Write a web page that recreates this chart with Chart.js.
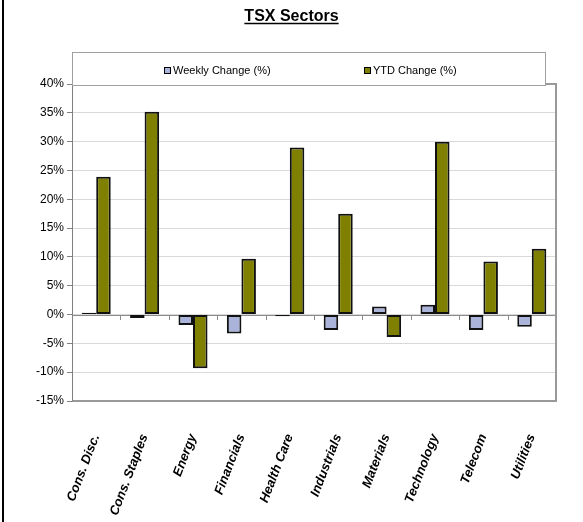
<!DOCTYPE html>
<html>
<head>
<meta charset="utf-8">
<script src="https://cdn.jsdelivr.net/npm/chart.js@4/dist/chart.umd.min.js"></script>
<style>
    html, body { margin: 0; padding: 0; background: #fff; }
    #chart-container { width: 583px; height: 522px; }
</style>
</head>
<body>
<div id="chart-container"><canvas id="chart-canvas" width="583" height="522"></canvas></div>
<script>
const chartTitle = 'TSX Sectors';
const sectors = ['Cons. Disc.', 'Cons. Staples', 'Energy', 'Financials', 'Health Care',
    'Industrials', 'Materials', 'Technology', 'Telecom', 'Utilities'];
const weeklyChange = [0.3, -0.6, -1.8, -3.3, -0.3, -2.7, 1.4, 1.7, -2.7, -2.1];
const ytdChange = [23.9, 35.2, -9.3, 9.7, 29.0, 17.5, -3.9, 30.0, 9.2, 11.4];
const yMin = -15;
const yMax = 40;
const yStep = 5;

// frame, zero line with category ticks, boxed legend, title
const decorations = {
    id: 'decorations',
    beforeDatasetsDraw(chart) {
        const { ctx, chartArea, scales } = chart;
        const y0 = Math.round(scales.y.getPixelForValue(0));
        ctx.save();
        ctx.strokeStyle = '#8c8c8c';
        ctx.lineWidth = 1;
        ctx.beginPath();
        ctx.moveTo(chartArea.left, y0 + 0.5);
        ctx.lineTo(chartArea.right, y0 + 0.5);
        for (let i = 0; i < sectors.length - 1; i++) {
            const x = Math.round((scales.x.getPixelForValue(i) + scales.x.getPixelForValue(i + 1)) / 2) + 0.5;
            ctx.moveTo(x, y0);
            ctx.lineTo(x, y0 + 5);
        }
        ctx.stroke();
        ctx.restore();
    },
    afterDraw(chart) {
        const { ctx, chartArea } = chart;
        ctx.save();
        // plot frame
        ctx.strokeStyle = '#999';
        ctx.lineWidth = 2;
        ctx.beginPath();
        ctx.moveTo(chartArea.left, chartArea.top);
        ctx.lineTo(chartArea.right, chartArea.top);
        ctx.lineTo(chartArea.right, chartArea.bottom);
        ctx.lineTo(chartArea.left, chartArea.bottom);
        ctx.stroke();
        ctx.strokeStyle = '#808080';
        ctx.lineWidth = 1;
        ctx.beginPath();
        ctx.moveTo(chartArea.left + 0.5, chartArea.top);
        ctx.lineTo(chartArea.left + 0.5, chartArea.bottom);
        ctx.stroke();

        // legend box
        ctx.fillStyle = '#fff';
        ctx.fillRect(72, 52, 473, 33);
        ctx.strokeStyle = '#a0a0a0';
        ctx.lineWidth = 1;
        ctx.strokeRect(72.5, 52.5, 473, 33);
        const xs = [164, 364];
        ctx.font = '11px Arial';
        ctx.textBaseline = 'middle';
        chart.data.datasets.forEach((ds, i) => {
            ctx.fillStyle = ds.backgroundColor;
            ctx.fillRect(xs[i], 67, 7, 7);
            ctx.strokeStyle = '#000';
            ctx.strokeRect(xs[i] + 0.5, 67.5, 6, 6);
            ctx.fillStyle = '#000';
            ctx.fillText(ds.label, xs[i] + 9, 71);
        });

        // title, underlined
        const cx = chart.width / 2;
        ctx.font = 'bold 16px Arial';
        ctx.textAlign = 'center';
        ctx.textBaseline = 'alphabetic';
        ctx.fillStyle = '#000';
        ctx.fillText(chartTitle, cx, 21);
        const w = ctx.measureText(chartTitle).width;
        ctx.strokeStyle = '#000';
        ctx.lineWidth = 1.5;
        ctx.beginPath();
        ctx.moveTo(cx - w / 2, 23.5);
        ctx.lineTo(cx + w / 2, 23.5);
        ctx.stroke();

        // page border at left
        ctx.fillStyle = '#000';
        ctx.fillRect(2, 0, 2, chart.height);
        ctx.restore();
    }
};

const ctx = document.getElementById('chart-canvas').getContext('2d');
new Chart(ctx, {
    type: 'bar',
    data: {
        labels: sectors,
        datasets: [{
            label: 'Weekly Change (%)',
            data: weeklyChange,
            backgroundColor: '#aab3da',
            borderColor: '#111',
            borderWidth: 2,
            borderSkipped: false,
            categoryPercentage: 0.6,
            barPercentage: 1
        }, {
            label: 'YTD Change (%)',
            data: ytdChange,
            backgroundColor: '#808000',
            borderColor: '#111',
            borderWidth: 2,
            borderSkipped: false,
            categoryPercentage: 0.6,
            barPercentage: 1
        }]
    },
    options: {
        responsive: false,
        animation: false,
        layout: {
            padding: { top: 84, left: 5, right: 27, bottom: 0 }
        },
        plugins: {
            legend: { display: false },
            tooltip: { enabled: false },
            title: { display: false }
        },
        scales: {
            x: {
                grid: { display: false, drawTicks: false },
                border: { display: false },
                ticks: {
                    autoSkip: false,
                    minRotation: 69,
                    maxRotation: 69,
                    padding: 31,
                    color: '#000',
                    font: { family: 'Arial', size: 13, weight: 'bold', style: 'italic' }
                },
                afterFit(scale) { scale.height = 121; }
            },
            y: {
                min: yMin,
                max: yMax,
                grid: { color: '#d9d9d9', tickColor: '#808080', tickLength: 5 },
                border: { display: false },
                ticks: {
                    stepSize: yStep,
                    padding: 3,
                    color: '#000',
                    font: { family: 'Arial', size: 12 },
                    callback: v => v + '%'
                },
                afterFit(scale) { scale.width = 67; }
            }
        }
    },
    plugins: [decorations]
});
</script>
</body>
</html>
